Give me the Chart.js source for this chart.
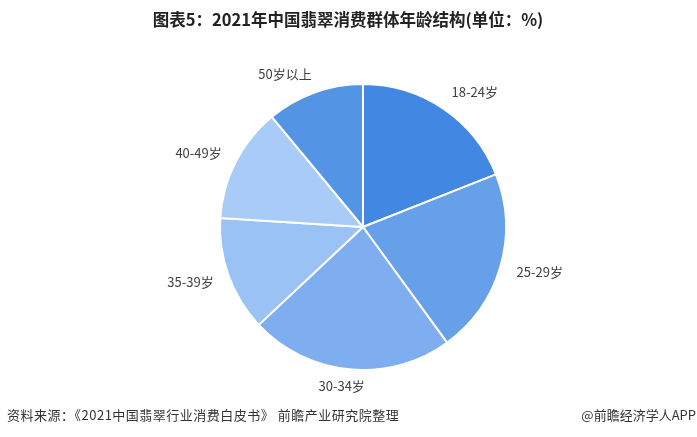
<!DOCTYPE html>
<html>
<head>
<meta charset="utf-8">
<script src="https://cdn.jsdelivr.net/npm/chart.js@4.4.0/dist/chart.umd.min.js"></script>
<style>
  html, body { margin: 0; padding: 0; background: #fff; }
  #wrap { width: 697px; height: 437px; position: relative; }
</style>
</head>
<body>
<div id="wrap"><canvas id="myChart" width="697" height="437"></canvas></div>
<script>
// 数据
var categorias = ['18-24岁', '25-29岁', '30-34岁', '35-39岁', '40-49岁', '50岁以上']
var valores = [19, 21, 23, 13, 13, 11]
var cores = ['#4287e1', '#66a0e8', '#7eaef0', '#9ac2f5', '#a9cbf7', '#5394e4']

var titulo = '图表5：2021年中国翡翠消费群体年龄结构(单位：%)'
var fonte = '资料来源：《2021中国翡翠行业消费白皮书》 前瞻产业研究院整理'
var marca = '@前瞻经济学人APP'

var fontFamily = '"Noto Sans CJK SC", "Noto Sans", sans-serif'

// rótulos fora da pizza + título + rodapé
var textos = {
    id: 'textos',
    afterDraw(chart) {
        var ctx = chart.ctx
        var meta = chart.getDatasetMeta(0)
        ctx.save()
        ctx.fillStyle = '#404040'
        ctx.font = '13px ' + fontFamily
        ctx.textBaseline = 'middle'
        meta.data.forEach((arc, i) => {
            var ang = (arc.startAngle + arc.endAngle) / 2
            var d = arc.outerRadius + 20
            var x = arc.x + Math.cos(ang) * d
            var y = arc.y + Math.sin(ang) * d
            var c = Math.cos(ang)
            if (Math.abs(c) < 0.15) {
                ctx.textAlign = 'center'
                x -= 6
                y -= 3
            } else if (c > 0) {
                ctx.textAlign = 'left'
                x -= 3
            } else {
                ctx.textAlign = 'right'
                x += 4
            }
            ctx.fillText(categorias[i], x, y)
        })

        ctx.fillStyle = '#222'
        ctx.font = 'bold 16.5px ' + fontFamily
        ctx.textAlign = 'center'
        ctx.fillText(titulo, 348, 20)

        ctx.fillStyle = '#333'
        ctx.font = '13px ' + fontFamily
        ctx.textAlign = 'left'
        ctx.letterSpacing = '0.5px'
        ctx.fillText(fonte, 7, 415)
        ctx.letterSpacing = '0px'
        ctx.textAlign = 'right'
        ctx.fillText(marca, 696, 415)
        ctx.restore()
    }
}

var myChart = new Chart(document.getElementById('myChart').getContext('2d'), {
    type: 'pie',
    data: {
        labels: categorias,
        datasets: [{
            data: valores,
            backgroundColor: cores,
            borderColor: '#ffffff',
            borderWidth: 2,
            hoverOffset: 0
        }]
    },
    options: {
        responsive: false,
        animation: false,
        layout: { padding: { left: 100, right: 71, top: 83, bottom: 66 } },
        plugins: {
            legend: { display: false },
            tooltip: { enabled: false }
        }
    },
    plugins: [textos]
})
</script>
</body>
</html>
